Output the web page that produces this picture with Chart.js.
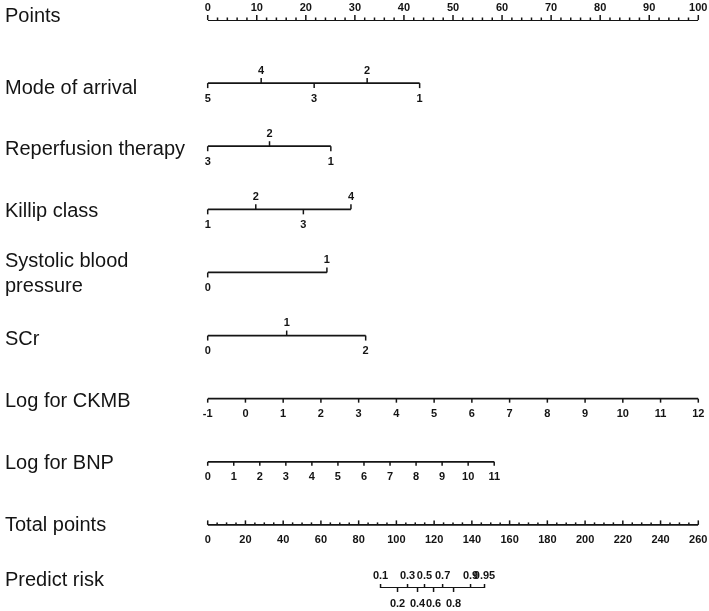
<!DOCTYPE html>
<html>
<head>
<meta charset="utf-8">
<script src="https://cdn.jsdelivr.net/npm/chart.js@4"></script>
<style>
  html, body { margin: 0; padding: 0; background: #fff; }
  #wrap { width: 709px; height: 611px; position: relative; }
</style>
</head>
<body>
<div id="wrap"><canvas id="nomo"></canvas></div>
<script>
// Row titles, top to bottom
const rowTitles = ['Points', 'Mode of arrival', 'Reperfusion therapy', 'Killip class',
    ['Systolic blood', 'pressure'], 'SCr', 'Log for CKMB', 'Log for BNP', 'Total points', 'Predict risk'];

// Points scale (0-100)
const pointsTicks = [0, 10, 20, 30, 40, 50, 60, 70, 80, 90, 100];
const pointsMinor = [2, 4, 6, 8, 12, 14, 16, 18, 22, 24, 26, 28, 32, 34, 36, 38, 42, 44, 46, 48,
    52, 54, 56, 58, 62, 64, 66, 68, 72, 74, 76, 78, 82, 84, 86, 88, 92, 94, 96, 98];

// Categorical predictors: level labels and the points each level sits at
const modeLabels = ['5', '4', '3', '2', '1'];
const modePoints = [0, 10.9, 21.7, 32.5, 43.2];
const reperfLabels = ['3', '2', '1'];
const reperfPoints = [0, 12.6, 25.1];
const killipLabels = ['1', '2', '3', '4'];
const killipPoints = [0, 9.8, 19.5, 29.2];
const sbpLabels = ['0', '1'];
const sbpPoints = [0, 24.3];
const scrLabels = ['0', '1', '2'];
const scrPoints = [0, 16.1, 32.2];

// Continuous predictors: tick values and the points range they span
const ckmbTicks = [-1, 0, 1, 2, 3, 4, 5, 6, 7, 8, 9, 10, 11, 12];
const ckmbPointsRange = [0, 100];
const bnpTicks = [0, 1, 2, 3, 4, 5, 6, 7, 8, 9, 10, 11];
const bnpPointsRange = [0, 58.4];

// Total points scale (0-260 over the full points width)
const totalTicks = [0, 20, 40, 60, 80, 100, 120, 140, 160, 180, 200, 220, 240, 260];
const totalMinor = [5, 10, 15, 25, 30, 35, 45, 50, 55, 65, 70, 75, 85, 90, 95, 105, 110, 115,
    125, 130, 135, 145, 150, 155, 165, 170, 175, 185, 190, 195, 205, 210, 215, 225, 230, 235, 245, 250, 255];
const totalMax = 260;

// Predicted risk labels and the total points they fall at
const riskLabels = ['0.1', '0.2', '0.3', '0.4', '0.5', '0.6', '0.7', '0.8', '0.9', '0.95'];
const riskTotal = [91.6, 100.6, 105.9, 111.2, 114.9, 119.7, 124.5, 130.3, 139.3, 146.7];

// --- layout helpers (not data) ---
const riskSide = ['up', 'down', 'up', 'down', 'up', 'down', 'up', 'down', 'up', 'up'];
const titleShift = [-4, 5, 3, 2, -11, 4, 3, 2, 1, -8];

function lin(v, vals, range) {
    const lo = vals[0], hi = vals[vals.length - 1];
    return range[0] + (v - lo) / (hi - lo) * (range[1] - range[0]);
}
function alternating(labels, pts) {
    return labels.map((l, i) => ({ pts: pts[i], label: l, side: i % 2 ? 'up' : 'down' }));
}
const totalToPts = v => v / totalMax * 100;

const rows = [
    { ticks: pointsTicks.map(v => ({ pts: v, label: String(v), side: 'up' })),
      minor: pointsMinor, minorSide: 'up', tickLen: 5 },
    { ticks: alternating(modeLabels, modePoints) },
    { ticks: alternating(reperfLabels, reperfPoints) },
    { ticks: alternating(killipLabels, killipPoints) },
    { ticks: alternating(sbpLabels, sbpPoints) },
    { ticks: alternating(scrLabels, scrPoints) },
    { ticks: ckmbTicks.map(v => ({ pts: lin(v, ckmbTicks, ckmbPointsRange), label: String(v), side: 'down' })), tickLen: 4 },
    { ticks: bnpTicks.map(v => ({ pts: lin(v, bnpTicks, bnpPointsRange), label: String(v), side: 'down' })), tickLen: 4 },
    { ticks: totalTicks.map(v => ({ pts: totalToPts(v), label: String(v), side: 'down', tickSide: 'up' })),
      minor: totalMinor.map(totalToPts), minorSide: 'up', tickLen: 4.5 },
    { ticks: riskLabels.map((l, i) => ({ pts: totalToPts(riskTotal[i]), label: l, side: riskSide[i] })), tickLen: 4 }
];

const ink = '#141414';

const datasets = rows.map((r, i) => {
    const p = r.ticks.map(t => t.pts);
    return {
        data: [{ x: Math.min(...p), y: i }, { x: Math.max(...p), y: i }],
        showLine: true,
        borderColor: ink,
        borderWidth: 1.8,
        pointRadius: 0,
        fill: false
    };
});

const nomogramAxes = {
    id: 'nomogramAxes',
    afterDatasetsDraw(chart) {
        const { ctx, scales: { x, y } } = chart;
        ctx.save();
        ctx.strokeStyle = ink;
        ctx.fillStyle = ink;
        ctx.lineWidth = 1.5;
        rows.forEach((r, i) => {
            const y0 = y.getPixelForValue(i);
            const len = r.tickLen || 5;
            // minor ticks
            (r.minor || []).forEach(v => {
                const px = x.getPixelForValue(v);
                ctx.beginPath();
                ctx.moveTo(px, y0);
                ctx.lineTo(px, r.minorSide === 'up' ? y0 - 2.5 : y0 + 2.5);
                ctx.stroke();
            });
            // major ticks + labels
            ctx.font = 'bold 11px "Liberation Sans", Arial, sans-serif';
            ctx.textAlign = 'center';
            ctx.textBaseline = 'middle';
            r.ticks.forEach(t => {
                const px = x.getPixelForValue(t.pts);
                const dir = (t.tickSide || t.side) === 'up' ? -1 : 1;
                ctx.beginPath();
                ctx.moveTo(px, y0);
                ctx.lineTo(px, y0 + dir * len);
                ctx.stroke();
                const ly = t.side === 'up' ? y0 - 12.5 : y0 + 15.5;
                ctx.fillText(t.label, px, ly);
            });
            // row title
            ctx.font = '20px "Liberation Sans", Arial, sans-serif';
            ctx.textAlign = 'left';
            const title = rowTitles[i];
            const ty = y0 + titleShift[i];
            if (Array.isArray(title)) {
                title.forEach((line, k) => ctx.fillText(line, 5, ty + k * 25));
            } else {
                ctx.fillText(title, 5, ty);
            }
        });
        ctx.restore();
    }
};

new Chart(document.getElementById('nomo'), {
    type: 'scatter',
    data: { datasets },
    options: {
        responsive: true,
        maintainAspectRatio: false,
        animation: false,
        layout: { padding: { left: 207.7, right: 10.7, top: 20, bottom: 23 } },
        plugins: { legend: { display: false }, tooltip: { enabled: false } },
        scales: {
            x: { type: 'linear', min: 0, max: 100, display: false },
            y: { type: 'linear', min: 0, max: 9, reverse: true, display: false }
        }
    },
    plugins: [nomogramAxes]
});
</script>
</body>
</html>
